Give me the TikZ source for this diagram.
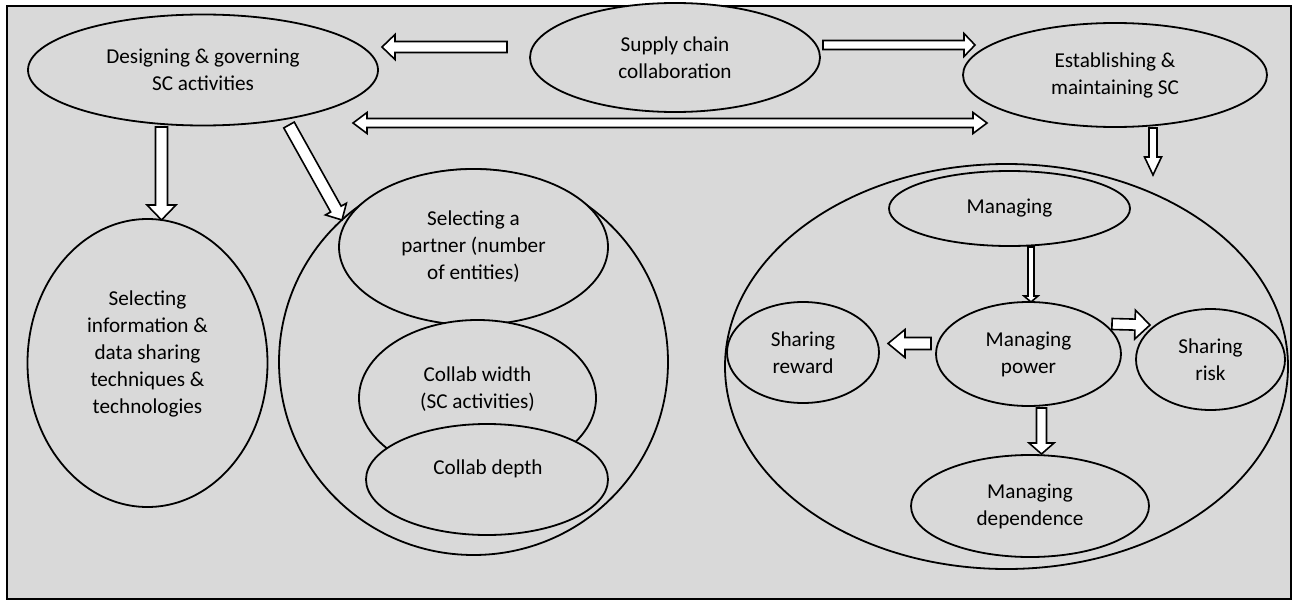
\documentclass[tikz,border=0pt]{standalone}
\usepackage{fontspec}
\setmainfont{Carlito}
\usetikzlibrary{shapes.geometric,calc}

\definecolor{panel}{HTML}{D9D9D9}

% Block arrow: #1 start, #2 tip, #3 shaft half width, #4 head half width, #5 head length
\newcommand\blockarr[5]{%
  \draw[blk] ($(#1)!#3!90:(#2)$)
    -- ($(#2)!#5!(#1)!#3!-90:(#1)$)
    -- ($(#2)!#5!(#1)!#4!-90:(#1)$)
    -- (#2)
    -- ($(#2)!#5!(#1)!#4!90:(#1)$)
    -- ($(#2)!#5!(#1)!#3!90:(#1)$)
    -- ($(#1)!#3!-90:(#2)$) -- cycle;}

% Double-headed block arrow: #1 tip, #2 tip, #3 shaft half width, #4 head half width, #5 head length
\newcommand\dblblockarr[5]{%
  \draw[blk] (#1)
    -- ($(#1)!#5!(#2)!#4!90:(#2)$)
    -- ($(#1)!#5!(#2)!#3!90:(#2)$)
    -- ($(#2)!#5!(#1)!#3!-90:(#1)$)
    -- ($(#2)!#5!(#1)!#4!-90:(#1)$)
    -- (#2)
    -- ($(#2)!#5!(#1)!#4!90:(#1)$)
    -- ($(#2)!#5!(#1)!#3!90:(#1)$)
    -- ($(#1)!#5!(#2)!#3!-90:(#2)$)
    -- ($(#1)!#5!(#2)!#4!-90:(#2)$) -- cycle;}

\tikzset{
  ell/.style={ellipse, draw, line width=1.8pt, fill=panel, inner sep=0pt,
              align=center, minimum width=#1},
  txt/.style={align=center, inner sep=0pt},
  blk/.style={draw, line width=1.6pt, fill=white, line join=miter},
}

\begin{document}
\begin{tikzpicture}[x=1pt, y=-1pt, font=\fontsize{21.2}{27}\selectfont]
\useasboundingbox (0,0) rectangle (1293,602);
\fill[white] (0,0) rectangle (1293,602);

% outer panel
\draw[line width=1.8pt, fill=panel] (7,6) rectangle (1291,599);

% top row
\node[ell=350pt, minimum height=111pt] (des) at (203,70) {Designing \& governing\\SC activities};
\node[ell=290pt, minimum height=109pt] (sc) at (675,57.5) {Supply chain\\collaboration};
\node[ell=304pt, minimum height=104pt] (est) at (1115,75) {Establishing \&\\maintaining SC};

% left column
\node[ell=240pt, minimum height=288pt] (info) at (147.5,363) {};
\node[txt] (infot) at (147.5,354) {Selecting\\information \&\\data sharing\\techniques \&\\technologies};

% middle group
\node[ell=389pt, minimum height=386pt] (midc) at (473.5,362) {};
\node[ell=269pt, minimum height=156pt] (part) at (473.5,247) {Selecting a\\partner (number\\of entities)};
\node[ell=237pt, minimum height=156pt] (wid) at (477.5,398) {};
\node[txt] (widt) at (477.5,389) {Collab width\\(SC activities)};
\node[ell=242pt, minimum height=111pt] (dep) at (487,479.5) {};
\node[txt] (dept) at (488,469) {Collab depth};

% right group
\node[ell=563pt, minimum height=405pt] (rc) at (1006.5,366.5) {};
\node[ell=241pt, minimum height=75pt] (mng) at (1009.5,208.5) {Managing};
\node[ell=185pt, minimum height=104pt] (pow) at (1028.5,354) {Managing\\power};
\node[ell=152pt, minimum height=101pt] (rew) at (803,352.5) {Sharing\\reward};
\node[ell=149pt, minimum height=101pt] (risk) at (1210.5,359.5) {Sharing\\risk};
\node[ell=238pt, minimum height=102pt] (mdep) at (1030,506) {Managing\\dependence};

% arrow end points
\coordinate (a1s) at (507,47);     \coordinate (a1t) at (382,47);
\coordinate (a2s) at (823,45);     \coordinate (a2t) at (975,45);
\coordinate (a3l) at (353,123);    \coordinate (a3r) at (987,123);
\coordinate (a4s) at (161.5,127);  \coordinate (a4t) at (161.5,220);
\coordinate (a5s) at (289,125);    \coordinate (a5t) at (342,220);
\coordinate (a6s) at (1153,128);   \coordinate (a6t) at (1153,175);
\coordinate (a7s) at (1031,247);   \coordinate (a7t) at (1031,302);
\coordinate (a8s) at (931,343.5);  \coordinate (a8t) at (888,343.5);
\coordinate (a9s) at (1112,324);   \coordinate (a9t) at (1150,325);
\coordinate (a10s) at (1041.5,408); \coordinate (a10t) at (1041.5,454);

% arrows
\blockarr{a1s}{a1t}{5.5pt}{12.5pt}{13pt}
\blockarr{a2s}{a2t}{4.5pt}{11.5pt}{11pt}
\dblblockarr{a3l}{a3r}{4.5pt}{10.5pt}{14pt}
\blockarr{a4s}{a4t}{6pt}{14.5pt}{15pt}
\blockarr{a5s}{a5t}{6pt}{12pt}{12.5pt}
\blockarr{a6s}{a6t}{4pt}{8.5pt}{18pt}
\blockarr{a7s}{a7t}{3pt}{7pt}{6pt}
\blockarr{a8s}{a8t}{6pt}{14pt}{17pt}
\blockarr{a9s}{a9t}{5.5pt}{14.5pt}{15pt}
\blockarr{a10s}{a10t}{5pt}{12.5pt}{11pt}
\end{tikzpicture}
\end{document}
